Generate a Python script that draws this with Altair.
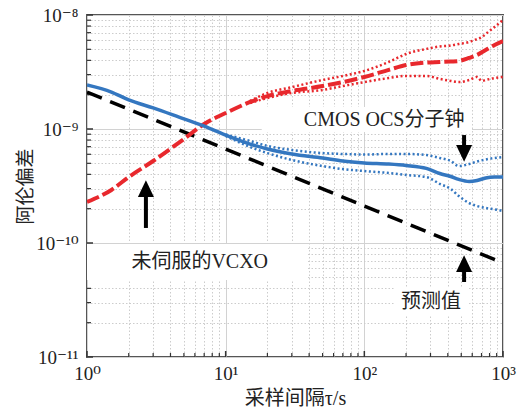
import altair as alt
import pandas as pd

# ---------------- data ----------------
blue_tau = [1, 1.5, 2, 3, 5, 7, 10, 15, 20, 30, 50, 70, 100, 150, 200, 280,
            350, 420, 480, 570, 650, 750, 870, 1000]
blue_mean = [2.43e-9, 2.11e-9, 1.80e-9, 1.53e-9, 1.225e-9, 1.06e-9, 8.85e-10,
             7.38e-10, 6.68e-10, 6.04e-10, 5.57e-10, 5.24e-10, 5.04e-10,
             4.93e-10, 4.79e-10, 4.51e-10, 4.07e-10, 3.83e-10, 3.61e-10,
             3.46e-10, 3.53e-10, 3.72e-10, 3.79e-10, 3.79e-10]
blue_band_tau = [10, 15, 20, 30, 50, 70, 100, 150, 200, 280, 350, 420, 480,
                 570, 650, 750, 870, 1000]
blue_upper = [8.95e-10, 7.85e-10, 7.10e-10, 6.55e-10, 6.15e-10, 6.04e-10,
              5.97e-10, 6.04e-10, 6.04e-10, 5.91e-10, 5.57e-10, 5.24e-10,
              4.73e-10, 4.93e-10, 5.19e-10, 5.40e-10, 5.57e-10, 5.68e-10]
blue_lower = [8.69e-10, 6.95e-10, 6.15e-10, 5.35e-10, 4.73e-10, 4.45e-10,
              4.28e-10, 4.11e-10, 3.95e-10, 3.79e-10, 3.30e-10, 2.98e-10,
              2.58e-10, 2.24e-10, 2.11e-10, 2.03e-10, 1.97e-10, 1.91e-10]

red_tau = [1, 1.5, 2, 3, 5, 7, 10, 15, 20, 30, 50, 70, 100, 150, 200, 280,
           350, 420, 480, 570, 650, 750, 870, 1000]
red_mean = [2.29e-10, 2.92e-10, 3.79e-10, 5.24e-10, 8.17e-10, 1.107e-9,
            1.38e-9, 1.726e-9, 1.945e-9, 2.153e-9, 2.38e-9, 2.58e-9, 2.86e-9,
            3.30e-9, 3.64e-9, 3.83e-9, 3.87e-9, 3.91e-9, 3.95e-9, 4.20e-9,
            4.46e-9, 4.93e-9, 5.46e-9, 5.92e-9]
red_band_tau = [15, 20, 30, 50, 70, 100, 150, 200, 280, 350, 420, 480, 570,
                650, 705, 750, 870, 1000]
red_upper = [1.762e-9, 2.07e-9, 2.33e-9, 2.69e-9, 2.92e-9, 3.23e-9, 3.87e-9,
             4.55e-9, 5.04e-9, 5.30e-9, 5.40e-9, 5.57e-9, 5.80e-9, 6.15e-9,
             6.41e-9, 6.81e-9, 7.85e-9, 9.04e-9]
red_lower = [1.690e-9, 1.870e-9, 2.07e-9, 2.20e-9, 2.38e-9, 2.58e-9, 2.80e-9,
             2.92e-9, 2.92e-9, 2.75e-9, 2.64e-9, 2.58e-9, 2.69e-9, 2.86e-9,
             2.64e-9, 2.69e-9, 2.80e-9, 2.86e-9]

pred_tau = [1, 1000]
pred_value = [2.11e-9, 6.68e-11]

# annotations (data coordinates)
label_text = ["CMOS OCS分子钟", "未伺服的VCXO", "预测值"]
label_tau = [139, 6.5, 303]
label_value = [1.2e-9, 6.81e-11, 3.03e-11]

box_tau = [18.2, 1.0, 164]
box_tau2 = [598, 38.3, 569]
box_value = [1.56e-9, 9.79e-11, 4.03e-11]
box_value2 = [9.42e-10, 4.73e-11, 2.29e-11]

arrow_dir = ["up", "down", "up"]
arrow_tau = [2.66, 524, 524]
arrow_tail = [1.355e-10, 8.85e-10, 4.55e-11]
arrow_head = [2.98e-10, 6.15e-10, 6.55e-11]

x_major = [1, 10, 100, 1000]
x_major_labels = ["10⁰", "10¹", "10²", "10³"]
y_major = [1e-11, 1e-10, 1e-9, 1e-8]
y_major_labels = ["10⁻¹¹", "10⁻¹⁰", "10⁻⁹", "10⁻⁸"]

# ---------------- build ----------------
x_ticks = [m * d for d in x_major[:-1] for m in range(1, 10)] + [x_major[-1]]
y_ticks = [m * d for d in y_major[:-1] for m in range(1, 10)] + [y_major[-1]]
x_minor = [v for v in x_ticks if v not in x_major]
y_minor = [v for v in y_ticks if v not in y_major]


def label_expr(vals, labels):
    s = "''"
    for v, l in zip(reversed(vals), reversed(labels)):
        s = f"datum.value == {v!r} ? '{l}' : ({s})"
    return s


is_major = "abs(log(datum.value)/LN10 - round(log(datum.value)/LN10)) < 1e-6"
grid_dash = {"condition": {"test": is_major, "value": []}, "value": [1.5, 2]}
grid_color = {"condition": {"test": is_major, "value": "#d2d2d2"}, "value": "#cccccc"}

SERIF = "'Liberation Serif', 'Times New Roman', 'DejaVu Serif', serif"
CJK = "'Liberation Serif', 'Times New Roman', 'Noto Sans CJK SC', serif"

xaxis = alt.Axis(values=x_ticks, labelExpr=label_expr(x_major, x_major_labels),
                 grid=True, gridDash=grid_dash, gridColor=grid_color, gridWidth=1,
                 ticks=False, domain=False, labelFont=SERIF, labelFontSize=19,
                 labelColor="#222", labelPadding=7, labelFlush=False,
                 labelOverlap=False, title="采样间隔τ/s", titleFont=CJK,
                 titleFontSize=20, titleFontWeight="normal", titleColor="#222",
                 titleY=41, titleBaseline="middle")
yaxis = alt.Axis(values=y_ticks, labelExpr=label_expr(y_major, y_major_labels),
                 grid=True, gridDash=grid_dash, gridColor=grid_color, gridWidth=1,
                 ticks=False, domain=False, labelFont=SERIF, labelFontSize=19,
                 labelColor="#222", labelPadding=9, labelOverlap=False,
                 title="阿伦偏差", titleFont=CJK, titleFontSize=19,
                 titleFontWeight="normal", titleColor="#222", titleAngle=270,
                 titleX=-62, titleY=171, titleAlign="center",
                 titleBaseline="middle")

X = alt.X("tau:Q", scale=alt.Scale(type="log", domain=[1, 1000]), axis=xaxis)
Y = alt.Y("value:Q", scale=alt.Scale(type="log", domain=[1e-11, 1e-8]), axis=yaxis)

BLUE = "#3477c0"
RED = "#e8282d"


def line_df(tau, val):
    return pd.DataFrame({"tau": tau, "value": val})


def line(tau, val, **kw):
    return alt.Chart(line_df(tau, val)).mark_line(clip=True, interpolate="monotone", **kw).encode(x=X, y=Y)


boxes = alt.Chart(pd.DataFrame({"tau": box_tau, "tau2": box_tau2,
                                "value": box_value, "value2": box_value2})).mark_rect(
    color="white", opacity=1).encode(x=X, x2="tau2:Q", y=Y, y2="value2:Q")

bx = alt.Chart(pd.DataFrame({"tau": x_minor})).mark_rule(color="#333", strokeWidth=1.2).encode(
    x=X, y=alt.value(342), y2=alt.value(338))
bxM = alt.Chart(pd.DataFrame({"tau": x_major})).mark_rule(color="#333", strokeWidth=1.5).encode(
    x=X, y=alt.value(342), y2=alt.value(336))
ly = alt.Chart(pd.DataFrame({"value": y_minor})).mark_rule(color="#333", strokeWidth=1.2).encode(
    y=Y, x=alt.value(0), x2=alt.value(4))
lyM = alt.Chart(pd.DataFrame({"value": y_major})).mark_rule(color="#333", strokeWidth=1.5).encode(
    y=Y, x=alt.value(0), x2=alt.value(6))

pred = line(pred_tau, pred_value, color="black", strokeWidth=3.5, strokeDash=[16, 9])

blue_m = line(blue_tau, blue_mean, color=BLUE, strokeWidth=3.5)
blue_u = line(blue_band_tau, blue_upper, color=BLUE, strokeWidth=2.5, strokeDash=[2, 2.5])
blue_l = line(blue_band_tau, blue_lower, color=BLUE, strokeWidth=2.5, strokeDash=[2, 2.5])

red_m = line(red_tau, red_mean, color=RED, strokeWidth=4, strokeDash=[13, 4])
red_u = line(red_band_tau, red_upper, color=RED, strokeWidth=2.5, strokeDash=[2, 2.5])
red_l = line(red_band_tau, red_lower, color=RED, strokeWidth=2.5, strokeDash=[2, 2.5])

arr_df = pd.DataFrame({"dir": arrow_dir, "tau": arrow_tau, "value": arrow_tail,
                       "value2": arrow_head})
shafts = alt.Chart(arr_df).mark_rule(color="black", strokeWidth=4).encode(
    x=X, y=Y, y2="value2:Q")
heads_up = alt.Chart(arr_df).transform_filter("datum.dir == 'up'").transform_calculate(
    value="datum.value2").mark_point(shape="M0,-1.1L-1,1L1,1Z", filled=True, size=256,
                                     color="black", opacity=1).encode(x=X, y=Y)
heads_down = alt.Chart(arr_df).transform_filter("datum.dir == 'down'").transform_calculate(
    value="datum.value2").mark_point(shape="M0,1.1L-1,-1L1,-1Z", filled=True, size=256,
                                     color="black", opacity=1).encode(x=X, y=Y)

texts = alt.Chart(pd.DataFrame({"label": label_text, "tau": label_tau,
                                "value": label_value})).mark_text(
    font=CJK, fontSize=20, color="#222", align="center", baseline="middle").encode(
    x=X, y=Y, text="label:N")

chart = alt.layer(
    bx, bxM, ly, lyM, boxes, pred, red_u, red_l, red_m, blue_u, blue_l, blue_m,
    shafts, heads_up, heads_down, texts
).properties(
    width=416, height=342,
    autosize=alt.AutoSizeParams(type="none"),
    padding={"left": 87, "top": 15, "right": 18, "bottom": 51},
    background="white",
).configure_view(stroke="#555555", strokeWidth=2)

chart.save("out.html", embed_options={"renderer": "svg", "actions": False})
